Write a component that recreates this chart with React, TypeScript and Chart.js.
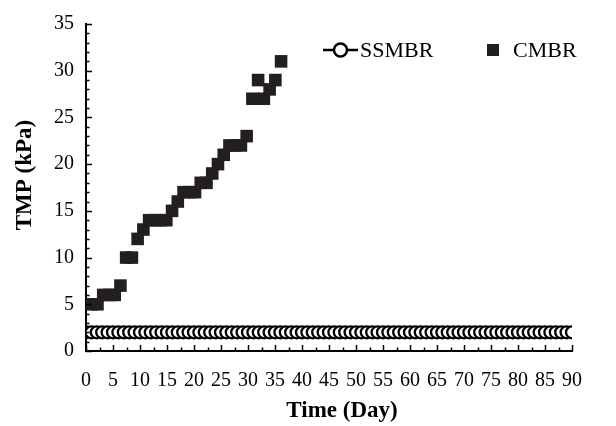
import { useEffect, useRef } from "react";
import { Chart, registerables } from "chart.js";

Chart.register(...registerables);

// ---- Data ----
const SSMBR_DAYS = [
  0, 1, 2, 3, 4, 5, 6, 7, 8, 9, 10, 11, 12, 13, 14, 15, 16, 17, 18, 19, 20,
  21, 22, 23, 24, 25, 26, 27, 28, 29, 30, 31, 32, 33, 34, 35, 36, 37, 38, 39, 40,
  41, 42, 43, 44, 45, 46, 47, 48, 49, 50, 51, 52, 53, 54, 55, 56, 57, 58, 59, 60,
  61, 62, 63, 64, 65, 66, 67, 68, 69, 70, 71, 72, 73, 74, 75, 76, 77, 78, 79, 80,
  81, 82, 83, 84, 85, 86, 87, 88, 89, 90,
];
const SSMBR_TMP = [
  2, 2, 2, 2, 2, 2, 2, 2, 2, 2, 2, 2, 2, 2, 2, 2, 2, 2, 2, 2, 2,
  2, 2, 2, 2, 2, 2, 2, 2, 2, 2, 2, 2, 2, 2, 2, 2, 2, 2, 2, 2,
  2, 2, 2, 2, 2, 2, 2, 2, 2, 2, 2, 2, 2, 2, 2, 2, 2, 2, 2, 2,
  2, 2, 2, 2, 2, 2, 2, 2, 2, 2, 2, 2, 2, 2, 2, 2, 2, 2, 2, 2,
  2, 2, 2, 2, 2, 2, 2, 2, 2, 2,
];
const CMBR_DAYS = [
  1, 2, 3, 4, 5, 6, 7, 8, 9, 10, 11, 12, 13, 14, 15, 16, 17, 18, 19, 20,
  21, 22, 23, 24, 25, 26, 27, 28, 29, 30, 31, 32, 33, 34,
];
const CMBR_TMP = [
  5, 5, 6, 6, 6, 7, 10, 10, 12, 13, 14, 14, 14, 14, 15, 16, 17, 17, 17, 18,
  18, 19, 20, 21, 22, 22, 22, 23, 27, 29, 27, 28, 29, 31,
];
const SERIES_NAMES = ["SSMBR", "CMBR"];
const X_TITLE = "Time (Day)";
const Y_TITLE = "TMP (kPa)";

const X_MIN = 0;
const X_MAX = 90;
const X_STEP = 5;
const X_MINOR = 2.5;
// CMBR is plotted on its own (hidden) day axis, as in the source figure
const X2_MAX = 84.7;
const Y_MIN = 0;
const Y_MAX = 35;
const Y_STEP = 5;
const Y_MINOR = 1;

const FONT = "'Liberation Serif', 'Times New Roman', serif";
const INK = "#000000";
const SQUARE = "#231f20";

const inwardTicks = {
  id: "inwardTicks",
  afterDraw(chart: any) {
    const { ctx, chartArea } = chart;
    const x = chart.scales.x;
    const y = chart.scales.y;
    ctx.save();
    ctx.strokeStyle = INK;
    ctx.lineWidth = 1.5;
    ctx.beginPath();
    for (let v = X_MIN; v <= X_MAX + 1e-6; v += X_MINOR) {
      const px = Math.round(x.getPixelForValue(v)) + 0.5;
      const major = Math.abs(v / X_STEP - Math.round(v / X_STEP)) < 1e-6;
      const len = major ? 6 : 3.5;
      ctx.moveTo(px, chartArea.bottom);
      ctx.lineTo(px, chartArea.bottom - len);
    }
    for (let v = Y_MIN; v <= Y_MAX + 1e-6; v += Y_MINOR) {
      const py = Math.round(y.getPixelForValue(v)) + 0.5;
      const major = Math.abs(v / Y_STEP - Math.round(v / Y_STEP)) < 1e-6;
      const len = major ? 6 : 3.5;
      ctx.moveTo(chartArea.left, py);
      ctx.lineTo(chartArea.left + len, py);
    }
    ctx.stroke();
    ctx.restore();
  },
};

const legendPlugin = {
  id: "customLegend",
  afterDraw(chart: any) {
    const { ctx } = chart;
    ctx.save();
    const cy = 50;
    // SSMBR: line with open circle
    ctx.strokeStyle = INK;
    ctx.lineWidth = 2.5;
    ctx.beginPath();
    ctx.moveTo(323, cy);
    ctx.lineTo(358, cy);
    ctx.stroke();
    ctx.beginPath();
    ctx.arc(340.5, cy, 6.5, 0, Math.PI * 2);
    ctx.fillStyle = "#ffffff";
    ctx.fill();
    ctx.lineWidth = 2.5;
    ctx.stroke();
    ctx.fillStyle = INK;
    ctx.font = `22px ${FONT}`;
    ctx.textBaseline = "middle";
    ctx.textAlign = "left";
    ctx.fillText(SERIES_NAMES[0], 360, cy + 1);
    // CMBR: filled square
    ctx.fillStyle = SQUARE;
    ctx.fillRect(487, cy - 6, 12, 12);
    ctx.fillStyle = INK;
    ctx.fillText(SERIES_NAMES[1], 513, cy + 1);

    // X axis title
    ctx.font = `bold 23px ${FONT}`;
    ctx.textAlign = "center";
    ctx.textBaseline = "middle";
    ctx.fillText(X_TITLE, 342, 411);

    // Y axis title (rotated)
    ctx.translate(25, 175);
    ctx.rotate(-Math.PI / 2);
    ctx.fillText(Y_TITLE, 0, 0);
    ctx.restore();
  },
};

export default function App() {
  const canvasRef = useRef<HTMLCanvasElement | null>(null);

  useEffect(() => {
    const canvas = canvasRef.current;
    if (!canvas) return;
    const chart = new Chart(canvas, {
      type: "scatter",
      data: {
        datasets: [
          {
            label: SERIES_NAMES[0],
            data: SSMBR_DAYS.map((d, i) => ({ x: d, y: SSMBR_TMP[i] })),
            xAxisID: "x",
            showLine: true,
            borderColor: INK,
            borderWidth: 2,
            pointStyle: "circle",
            pointRadius: 6,
            pointBorderWidth: 2.3,
            pointBorderColor: INK,
            pointBackgroundColor: "#ffffff",
          },
          {
            label: SERIES_NAMES[1],
            data: CMBR_DAYS.map((d, i) => ({ x: d, y: CMBR_TMP[i] })),
            xAxisID: "x2",
            showLine: false,
            pointStyle: "rect",
            pointRadius: 8.9,
            pointBorderWidth: 0,
            pointBackgroundColor: SQUARE,
            pointBorderColor: SQUARE,
          },
        ],
      },
      options: {
        responsive: true,
        maintainAspectRatio: false,
        animation: false,
        layout: { padding: { top: 22, right: 44, left: 0, bottom: 0 } },
        plugins: {
          legend: { display: false },
          tooltip: { enabled: false },
        },
        scales: {
          x: {
            type: "linear",
            position: "bottom",
            min: X_MIN,
            max: X_MAX,
            afterFit: (s: any) => {
              s.height = 75;
            },
            border: { display: true, color: INK, width: 2 },
            grid: { drawOnChartArea: false, drawTicks: false },
            ticks: {
              stepSize: X_STEP,
              autoSkip: false,
              maxRotation: 0,
              padding: 18,
              color: INK,
              font: { family: FONT, size: 20 },
            },
            title: { display: false },
          },
          x2: {
            type: "linear",
            position: "bottom",
            display: false,
            min: X_MIN,
            max: X2_MAX,
          },
          y: {
            type: "linear",
            min: Y_MIN,
            max: Y_MAX,
            afterFit: (s: any) => {
              s.width = 86;
            },
            border: { display: true, color: INK, width: 2 },
            grid: { drawOnChartArea: false, drawTicks: false },
            ticks: {
              stepSize: Y_STEP,
              padding: 12,
              color: INK,
              font: { family: FONT, size: 20 },
            },
            title: { display: false },
          },
        },
      },
      plugins: [inwardTicks, legendPlugin],
    });
    return () => chart.destroy();
  }, []);

  return (
    <div style={{ position: "absolute", left: 0, top: 0, width: 616, height: 426 }}>
      <canvas ref={canvasRef} />
    </div>
  );
}
